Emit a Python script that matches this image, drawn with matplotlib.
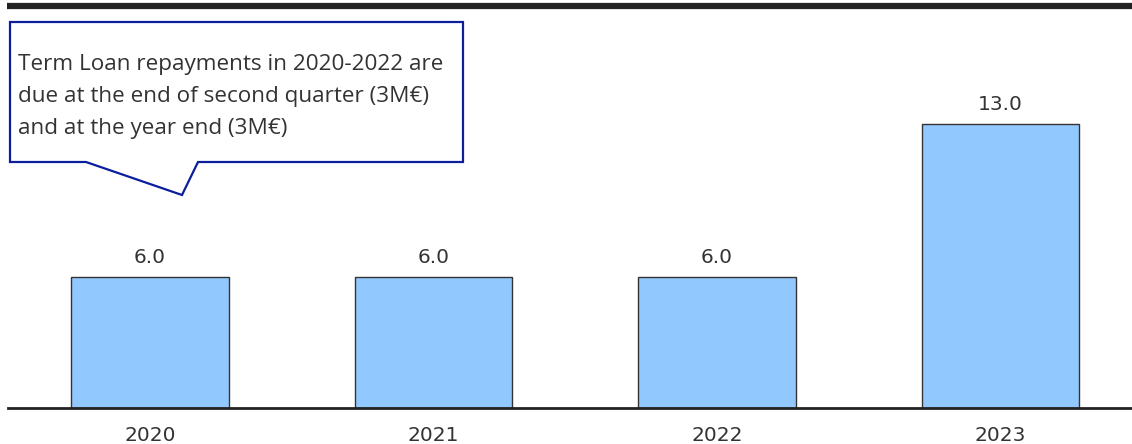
import numpy as np
import matplotlib.pyplot as plt
from matplotlib.patches import Polygon

plt.rcParams['font.family'] = ['DejaVu Sans']

# Data
years = ['2020', '2021', '2022', '2023']
repayments = [6.0, 6.0, 6.0, 13.0]
note = ('Term Loan repayments in 2020-2022 are\n'
        'due at the end of second quarter (3M€)\n'
        'and at the year end (3M€)')

W, H = 1132, 444
fig = plt.figure(figsize=(W / 100, H / 100), dpi=100)

# main axes placed in pixel terms: baseline at y=408, left edge x=8
ax = fig.add_axes([8 / W, (H - 408) / H, (W - 8) / W, 398 / H])
x = np.arange(len(years))
ax.bar(x, repayments, width=0.557, color='#91C9FF', edgecolor='#333333',
       linewidth=1.0, zorder=2)
for xi, v in zip(x, repayments):
    ax.text(xi, v + 0.45, '{:.1f}'.format(v), ha='center', va='bottom',
            fontsize=14.5, color='#333333')

ax.set_xlim(-0.5009, 3.4638)
ax.set_ylim(0, 18.23)
ax.set_xticks(x)
ax.set_xticklabels(years, fontsize=14.5, color='#333333')
ax.tick_params(axis='x', length=0, pad=13)
ax.set_yticks([])
for s in ['top', 'right', 'left']:
    ax.spines[s].set_visible(False)
ax.spines['bottom'].set_color('#222222')
ax.spines['bottom'].set_linewidth(2)

# overlay in pixel coordinates for the header bar and the callout
ov = fig.add_axes([0, 0, 1, 1], facecolor='none')
ov.set_xlim(0, W)
ov.set_ylim(H, 0)
ov.axis('off')
ov.plot([7, W], [6, 6], color='#222222', linewidth=4.5, solid_capstyle='butt')

callout = Polygon([(10, 22), (463, 22), (463, 162), (198, 162), (182, 195),
                   (86, 162), (10, 162)], closed=True, facecolor='white',
                  edgecolor='#0A1E9E', linewidth=1.6)
ov.add_patch(callout)
ov.text(18, 54, note, ha='left', va='top', fontsize=16.2, color='#333333',
        linespacing=1.70, family=['Open Sans', 'DejaVu Sans'])

fig.savefig('out.png', dpi=100)
